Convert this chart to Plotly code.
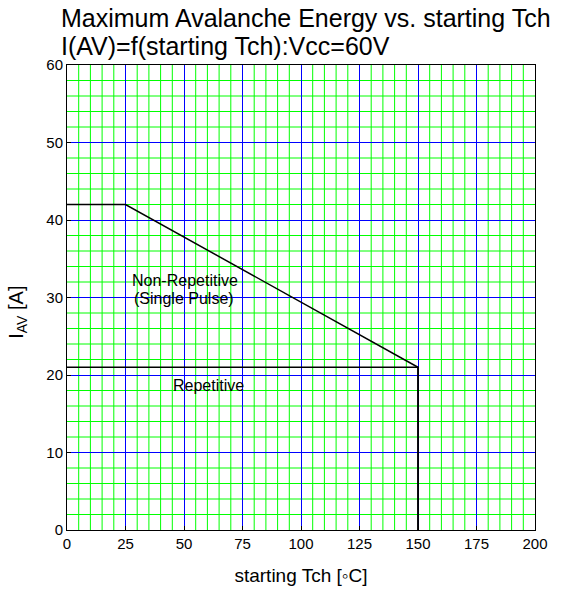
import plotly.graph_objects as go

# Data
nonrep_x = [0, 25, 150, 150]
nonrep_y = [42, 42, 21, 0]
rep_x = [0, 150, 150]
rep_y = [21, 21, 0]
x_ticks = [0, 25, 50, 75, 100, 125, 150, 175, 200]
y_ticks = [0, 10, 20, 30, 40, 50, 60]
x_minor_step = 5
y_minor_step = 2

FONT = "Liberation Sans, Arial, sans-serif"

fig = go.Figure()
fig.add_trace(go.Scatter(x=rep_x, y=rep_y, mode="lines",
                         line=dict(color="black", width=1.5), showlegend=False))
fig.add_trace(go.Scatter(x=nonrep_x, y=nonrep_y, mode="lines",
                         line=dict(color="black", width=1.5), showlegend=False))

# minor green grid (below major blue gridlines), skipping major positions
x_major_step = x_ticks[1] - x_ticks[0]
y_major_step = y_ticks[1] - y_ticks[0]
for i in range(1, int((x_ticks[-1] - x_ticks[0]) / x_minor_step)):
    xv = x_ticks[0] + i * x_minor_step
    if xv % x_major_step == 0:
        continue
    fig.add_shape(type="line", xref="x", yref="paper", x0=xv, x1=xv, y0=0, y1=1,
                  line=dict(color="#00ff00", width=1), layer="below")
for i in range(1, int((y_ticks[-1] - y_ticks[0]) / y_minor_step)):
    yv = y_ticks[0] + i * y_minor_step
    if yv % y_major_step == 0:
        continue
    fig.add_shape(type="line", xref="paper", yref="y", x0=0, x1=1, y0=yv, y1=yv,
                  line=dict(color="#00ff00", width=1), layer="below")

fig.add_annotation(x=50.4, y=32.25, text="Non-Repetitive", showarrow=False,
                   font=dict(family=FONT, size=16, color="black"))
fig.add_annotation(x=50.0, y=29.85, text="(Single Pulse)", showarrow=False,
                   font=dict(family=FONT, size=16, color="black"))
fig.add_annotation(x=60.3, y=18.6, text="Repetitive", showarrow=False,
                   font=dict(family=FONT, size=16, color="black"))

# Title lines
fig.add_annotation(x=-0.018, xref="paper", xanchor="left", y=1.100, yref="paper", yanchor="middle",
                   text="Maximum Avalanche Energy vs. starting Tch", showarrow=False,
                   font=dict(family=FONT, size=25, color="black"))
fig.add_annotation(x=-0.018, xref="paper", xanchor="left", y=1.041, yref="paper", yanchor="middle",
                   text="I(AV)=f(starting Tch):Vcc=60V", showarrow=False,
                   font=dict(family=FONT, size=25, color="black"))

# Y-axis title
fig.add_annotation(x=-0.105, xref="paper", xanchor="center", y=0.469, yref="paper", yanchor="middle",
                   text="I<sub>AV</sub> [A]", textangle=-90, showarrow=False,
                   font=dict(family=FONT, size=20, color="black"))

fig.update_layout(
    width=565, height=594,
    margin=dict(l=67, r=30, t=65, b=62),
    paper_bgcolor="white", plot_bgcolor="white",
    font=dict(family=FONT, size=15, color="black"),
    xaxis=dict(range=[x_ticks[0], x_ticks[-1]], tickmode="array", tickvals=x_ticks,
               showgrid=True, gridcolor="#0000ff", gridwidth=1,
               zeroline=False, showline=True, linecolor="black", linewidth=1, mirror=True,
               ticks="inside", ticklen=4, tickcolor="black",
               title=dict(text="starting Tch [◦C]", font=dict(family=FONT, size=19), standoff=17),
               tickfont=dict(family=FONT, size=15)),
    yaxis=dict(range=[y_ticks[0], y_ticks[-1]], tickmode="array", tickvals=y_ticks,
               showgrid=True, gridcolor="#0000ff", gridwidth=1,
               zeroline=False, showline=True, linecolor="black", linewidth=1, mirror=True,
               ticks="inside", ticklen=4, tickcolor="black",
               tickfont=dict(family=FONT, size=15)),
)

fig.write_html("out.html")
